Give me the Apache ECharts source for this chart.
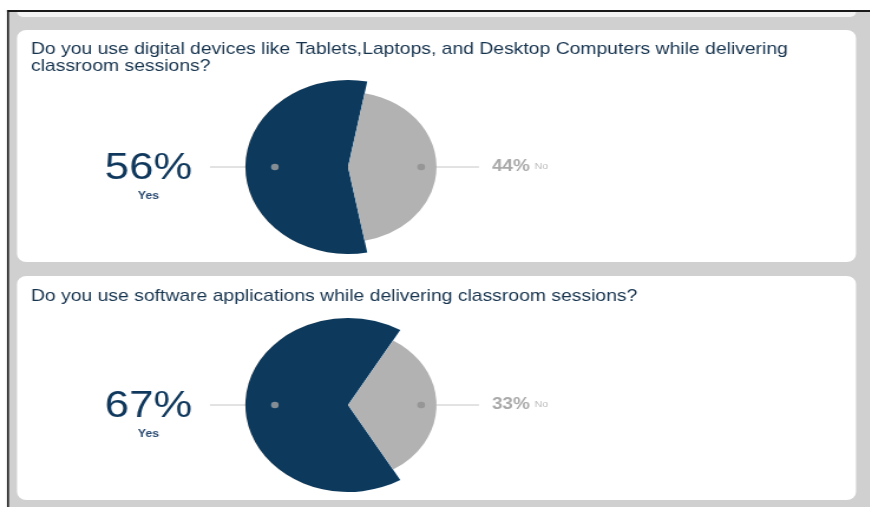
<!DOCTYPE html>
<html>
<head>
<meta charset="utf-8">
<script src="https://cdn.jsdelivr.net/npm/echarts@6/dist/echarts.min.js"></script>
<style>
  html, body { margin: 0; padding: 0; background: #fff; overflow: hidden; }
  #chart { height: 507px; transform-origin: 0 0; }
</style>
</head>
<body>
<div id="chart"></div>
<script>
// Survey questions and their Yes / No shares (percent)
const questions = [
  'Do you use digital devices like Tablets,Laptops, and Desktop Computers while delivering\nclassroom sessions?',
  'Do you use software applications while delivering classroom sessions?'
];
const answerNames = ['Yes', 'No'];
const yesShare = [56, 67];
const noShare = [44, 33];

// The dashboard is rendered slightly widened horizontally
const STRETCH = 1.18;
const PAGE_W = 870, PAGE_H = 507;
const W = PAGE_W / STRETCH;
const sx = v => v / STRETCH;            // page x -> drawing x

const el = document.getElementById('chart');
el.style.width = W + 'px';
el.style.transform = 'scaleX(' + STRETCH + ')';

const BLUE = '#0c395c';
const GREY = '#b2b2b2';
const PANEL_BG = '#d0d0d0';
const TITLE_COLOR = '#17344f';
const FONT = '"Liberation Sans", Arial, Helvetica, sans-serif';

// Panel frames (page pixels)
const panels = [
  { top: 30, height: 232 },
  { top: 276, height: 224 }
];
const PANEL_X = 17, PANEL_W = 839;
const PIE_X = sx(348);
const pieY = [167, 405];
const R_YES = 87, R_NO = 75, R_LABEL = 62;

const graphic = [
  // grey canvas
  { type: 'rect', shape: { x: sx(9), y: 12, width: W, height: PAGE_H }, style: { fill: PANEL_BG }, silent: true },
  // bottom of the panel above
  { type: 'rect', shape: { x: sx(PANEL_X), y: 12, width: sx(PANEL_W), height: 5, r: [0, 0, 6, 6] }, style: { fill: '#f4f4f4' }, silent: true },
  // frame edges
  { type: 'rect', shape: { x: sx(7), y: 10, width: W, height: 2 }, style: { fill: '#1a1a1a' }, silent: true },
  { type: 'rect', shape: { x: sx(7), y: 10, width: sx(2), height: PAGE_H }, style: { fill: '#1a1a1a' }, silent: true }
];
panels.forEach(p => {
  graphic.push({
    type: 'rect',
    shape: { x: sx(PANEL_X), y: p.top, width: sx(PANEL_W), height: p.height, r: 8 },
    style: { fill: '#ffffff' },
    silent: true
  });
});

const title = questions.map((q, i) => ({
  text: q,
  left: sx(31),
  top: panels[i].top + 11 + i,
  padding: 0,
  textStyle: { fontSize: 16.4, fontWeight: 'normal', color: TITLE_COLOR, lineHeight: 17, fontFamily: FONT }
}));

const polar = [], angleAxis = [], radiusAxis = [], series = [];
const CLEAR = 'rgba(0,0,0,0)';

yesShare.forEach((yes, i) => {
  const no = noShare[i];
  const center = [PIE_X, pieY[i]];
  const total = yes + no;
  const yesAngle = yes / total * 360;
  // Yes slice is centred on the left side of the pie
  const startAngle = 180 + yesAngle / 2;
  const midYes = startAngle - yesAngle / 2;
  const midNo = startAngle - yesAngle - (360 - yesAngle) / 2;

  const base = {
    type: 'pie', center, startAngle, clockwise: true, silent: true, animation: false,
    avoidLabelOverlap: false, label: { show: false }, labelLine: { show: false }
  };

  // larger Yes sector
  series.push(Object.assign({}, base, {
    radius: R_YES,
    itemStyle: { borderWidth: 0 },
    data: [
      { name: answerNames[0], value: yes, itemStyle: { color: BLUE } },
      { name: answerNames[1], value: no, itemStyle: { color: CLEAR } }
    ]
  }));
  // smaller No sector
  series.push(Object.assign({}, base, {
    radius: R_NO,
    itemStyle: { borderWidth: 0 },
    data: [
      { name: answerNames[0], value: yes, itemStyle: { color: CLEAR } },
      { name: answerNames[1], value: no, itemStyle: { color: GREY } }
    ]
  }));
  // label carrier: callout lines start from the inner marker ring
  series.push(Object.assign({}, base, {
    radius: R_LABEL,
    itemStyle: { color: CLEAR, borderWidth: 0 },
    label: { show: true, position: 'outside', fontFamily: FONT },
    labelLine: { show: true, smooth: false, lineStyle: { color: '#c6c6c6', width: 1 } },
    data: [
      {
        name: answerNames[0], value: yes,
        labelLine: { length: 15, length2: 40 },
        label: {
          distanceToLabelLine: 15,
          padding: [22, 0, 0, 0],
          formatter: p => '{big|' + p.value + '%}\n{small|' + p.name + '}',
          rich: {
            big: { fontSize: 37, lineHeight: 36, color: '#10385d', fontFamily: FONT, align: 'center' },
            small: { fontSize: 10.5, lineHeight: 18, fontWeight: 'bold', color: '#2b4b72', fontFamily: FONT, align: 'center' }
          }
        }
      },
      {
        name: answerNames[1], value: no,
        labelLine: { length: 15, length2: 34 },
        label: {
          distanceToLabelLine: 11,
          formatter: p => '{big|' + p.value + '%}{small|' + p.name + '}',
          rich: {
            big: { fontSize: 16, fontWeight: 'bold', color: '#a9a9a9', fontFamily: FONT },
            small: { fontSize: 9, color: '#bcbcbc', fontFamily: FONT, padding: [0, 0, 0, 4] }
          }
        }
      }
    ]
  }));

  // marker dots on a polar frame sharing the pie centre (radius axis in pixels)
  polar.push({ center, radius: 100 });
  angleAxis.push({ polarIndex: i, type: 'value', min: 0, max: 360, startAngle: 0, clockwise: false, show: false });
  radiusAxis.push({ polarIndex: i, type: 'value', min: 0, max: 100, show: false });
  series.push({
    type: 'scatter', coordinateSystem: 'polar', polarIndex: i, silent: true, animation: false,
    symbol: 'circle', symbolSize: 6.5, z: 5,
    data: [
      { value: [R_LABEL, midYes], itemStyle: { color: '#a3a3a3' } },
      { value: [R_LABEL, (midNo + 360) % 360], itemStyle: { color: '#8e8e8e' } }
    ]
  });
});

const chart = echarts.init(el, null, { renderer: 'canvas' });
chart.setOption({
  backgroundColor: '#ffffff',
  animation: false,
  graphic,
  title,
  polar,
  angleAxis,
  radiusAxis,
  tooltip: { show: false },
  series
});
</script>
</body>
</html>
